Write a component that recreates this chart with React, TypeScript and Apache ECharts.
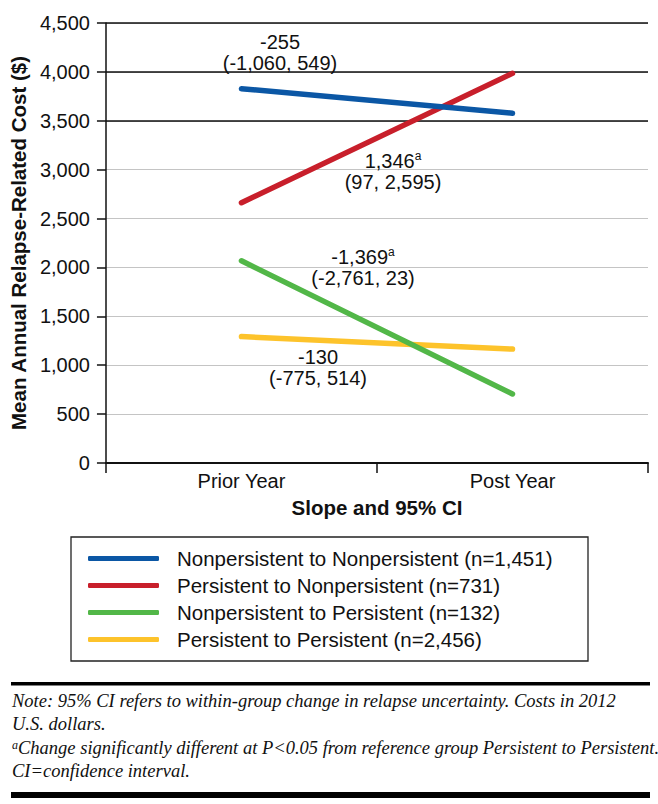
import React, { useEffect, useRef } from "react";
import * as echarts from "echarts";

const categories = ["Prior Year", "Post Year"];
const seriesNames = [
  "Nonpersistent to Nonpersistent (n=1,451)",
  "Persistent to Nonpersistent (n=731)",
  "Nonpersistent to Persistent (n=132)",
  "Persistent to Persistent (n=2,456)",
];
const nonToNon = [3828, 3578];
const perToNon = [2662, 3985];
const nonToPer = [2068, 706];
const perToPer = [1293, 1165];
const seriesColors = ["#0b57a5", "#c81f2b", "#52b748", "#fdc32b"];
const yTicks = { min: 0, max: 4500, interval: 500 };
const darkGridValues = [3500, 4000, 4500];

const slopeMain = ["-255", "1,346", "-1,369", "-130"];
const slopeSig = [false, true, true, false];
const slopeCI = ["(-1,060, 549)", "(97, 2,595)", "(-2,761, 23)", "(-775, 514)"];

const noteLines = [
  "Note: 95% CI refers to within-group change in relapse uncertainty. Costs in 2012",
  "U.S. dollars.",
  "Change significantly different at P<0.05 from reference group Persistent to Persistent.",
  "CI=confidence interval.",
];

const SANS = '"Liberation Sans", Arial, Helvetica, sans-serif';
const SERIF = '"Liberation Serif", "Times New Roman", serif';

export default function App() {
  const ref = useRef<HTMLDivElement>(null);
  useEffect(() => {
    if (!ref.current) return;
    const chart = echarts.init(ref.current, null, { renderer: "svg" });
    const data = [nonToNon, perToNon, nonToPer, perToPer];

    const annPos = [
      [280, 52],
      [393, 171],
      [363, 267],
      [318, 367],
    ];
    const annotations = slopeMain.map((m, i) => ({
      type: "text",
      x: annPos[i][0],
      y: annPos[i][1],
      silent: true,
      z: 10,
      style: {
        text: `{n|${m}}${slopeSig[i] ? "{s|a}" : ""}\n{n|${slopeCI[i]}}`,
        align: "center",
        verticalAlign: "middle",
        fill: "#111",
        rich: {
          n: { fontFamily: SANS, fontSize: 20, lineHeight: 21, fill: "#111" },
          s: { fontFamily: SANS, fontSize: 12, verticalAlign: "top", fill: "#111" },
        },
      },
    }));

    const noteY = [701, 724, 748, 771];
    const notes = noteLines.map((t, i) => ({
      type: "text",
      x: 12,
      y: noteY[i],
      silent: true,
      style: {
        text: i === 2 ? `{s|a}{t|${t}}` : `{t|${t}}`,
        align: "left",
        verticalAlign: "middle",
        rich: {
          t: { fontFamily: SERIF, fontStyle: "italic", fontSize: 18.5, fill: "#111" },
          s: { fontFamily: SERIF, fontStyle: "italic", fontSize: 12, verticalAlign: "top", fill: "#111" },
        },
      },
    }));

    chart.setOption({
      animation: false,
      backgroundColor: "#fff",
      grid: { left: 105, right: 10, top: 23, bottom: 341, containLabel: false },
      legend: {
        left: 88,
        top: 548,
        orient: "vertical",
        padding: 0,
        itemWidth: 71,
        itemHeight: 5,
        itemGap: 6,
        icon: "roundRect",
        data: seriesNames,
        textStyle: {
          fontFamily: SANS,
          fontSize: 20.5,
          lineHeight: 21,
          color: "#111",
          padding: [0, 0, 0, 13],
        },
      },
      xAxis: {
        type: "category",
        data: categories,
        boundaryGap: true,
        name: "Slope and 95% CI",
        nameLocation: "middle",
        nameGap: 34,
        nameTextStyle: { fontFamily: SANS, fontSize: 20.5, fontWeight: "bold", color: "#111" },
        axisLine: { lineStyle: { color: "#111", width: 2 } },
        axisTick: { show: true, length: 10, alignWithLabel: false, lineStyle: { color: "#111", width: 1.5 } },
        axisLabel: { fontFamily: SANS, fontSize: 20, color: "#111", margin: 8 },
      },
      yAxis: {
        type: "value",
        min: yTicks.min,
        max: yTicks.max,
        interval: yTicks.interval,
        name: "Mean Annual Relapse-Related Cost ($)",
        nameLocation: "middle",
        nameGap: 74,
        nameTextStyle: { fontFamily: SANS, fontSize: 20.5, fontWeight: "bold", color: "#111" },
        axisLine: { show: true, lineStyle: { color: "#111", width: 1.5 } },
        axisTick: { show: true, length: 9, lineStyle: { color: "#111", width: 1.5 } },
        axisLabel: {
          fontFamily: SANS,
          fontSize: 20,
          color: "#111",
          margin: 16,
          formatter: (v: number) => v.toLocaleString("en-US"),
        },
        splitLine: { show: true, lineStyle: { color: "#c4c4c4", width: 1.2 } },
      },
      series: [
        {
          type: "line",
          name: "__grid",
          data: [],
          silent: true,
          z: 1,
          markLine: {
            silent: true,
            z: 1,
            symbol: ["none", "none"],
            label: { show: false },
            lineStyle: { color: "#111", width: 1.5, type: "solid" },
            data: darkGridValues.map((v) => ({ yAxis: v })),
          },
        },
        ...seriesNames.map((name, i) => ({
          type: "line",
          name,
          data: data[i],
          color: seriesColors[i],
          showSymbol: false,
          symbol: "none",
          z: 3 + (3 - i),
          lineStyle: { width: 5.5, color: seriesColors[i], cap: "round" },
          itemStyle: { color: seriesColors[i] },
        })),
      ],
      graphic: [
        ...annotations,
        {
          type: "rect",
          silent: true,
          shape: { x: 71, y: 537, width: 517, height: 124 },
          style: { fill: "none", stroke: "#222", lineWidth: 1.3 },
        },
        {
          type: "rect",
          silent: true,
          shape: { x: 11, y: 682, width: 639, height: 3.5 },
          style: { fill: "#000" },
        },
        {
          type: "rect",
          silent: true,
          shape: { x: 11, y: 792, width: 639, height: 6 },
          style: { fill: "#000" },
        },
        ...notes,
      ],
    });
    return () => chart.dispose();
  }, []);
  return (
    <div
      ref={ref}
      style={{ position: "fixed", left: 0, top: 0, width: 658, height: 804, background: "#fff" }}
    />
  );
}
